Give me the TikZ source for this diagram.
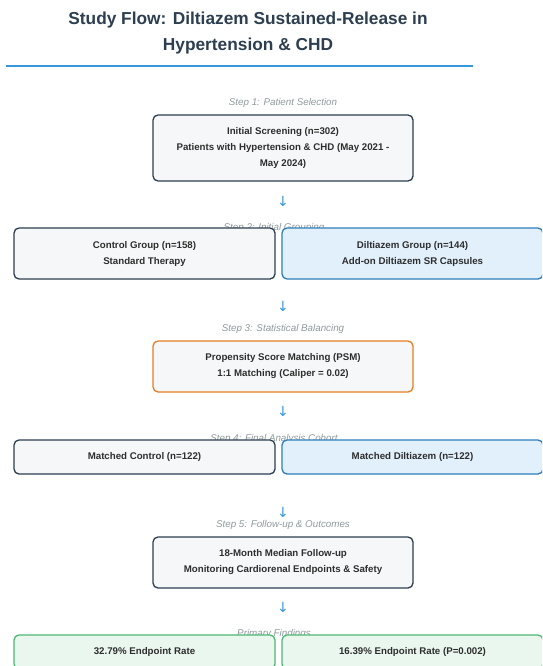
\documentclass[tikz,border=0pt]{standalone}
\usepackage{fontspec}
\setmainfont{Liberation Sans}
\newfontfamily\arrowfont{DejaVu Sans}

\definecolor{titlecol}{HTML}{2C3E50}
\definecolor{rulecol}{HTML}{3498DB}
\definecolor{stepcol}{HTML}{8E9A9D}
\definecolor{txtcol}{HTML}{2E2E2E}
\definecolor{boxfill}{HTML}{F5F7F8}
\definecolor{bluefill}{HTML}{E1F0FB}
\definecolor{blueline}{HTML}{2E7DB9}
\definecolor{orangeline}{HTML}{E67E22}
\definecolor{greenfill}{HTML}{EAF7EE}
\definecolor{greenline}{HTML}{4CB874}

\tikzset{
  box/.style={draw=titlecol,fill=boxfill,line width=1.3pt,rounded corners=5pt,
    text=txtcol,font=\fontsize{9.7}{16}\selectfont\bfseries,align=center,
    inner sep=0pt},
  bluebox/.style={box,draw=blueline,fill=bluefill},
  orangebox/.style={box,draw=orangeline},
  greenbox/.style={box,draw=greenline,fill=greenfill},
  steplabel/.style={text=stepcol,font=\fontsize{9.8}{10}\selectfont\itshape,inner sep=0pt},
  downarrow/.style={text=rulecol,font=\arrowfont\fontsize{14}{14}\selectfont,inner sep=0pt}
}

\begin{document}
\begin{tikzpicture}[x=1pt,y=-1pt]
  %ramme
	\clip (0,0) rectangle (542,666);
	\fill[white] (0,0) rectangle (542,666);

  %titel
	\node[text=titlecol,font=\fontsize{17.3}{26}\selectfont\bfseries,align=center] (title) at (248,33)
		{Study Flow: Diltiazem Sustained-Release in\\Hypertension \& CHD};
	\draw[rulecol,line width=1.2pt] (6,66) -- (473,66);

  %trin 1
	\node[steplabel] (lstep1) at (283,103) {Step 1: Patient Selection};
	\node[box,minimum width=260pt,minimum height=66pt] (screening) at (283,148)
		{Initial Screening (n=302)\\Patients with Hypertension \& CHD (May 2021 -\\May 2024)};
	\node[downarrow] (arr1) at (283,201) {↓};

  %trin 2
	\node[steplabel] (lstep2) at (274,227.5) {Step 2: Initial Grouping};
	\node[box,minimum width=261pt,minimum height=51pt] (control) at (144.5,253.5)
		{Control Group (n=158)\\Standard Therapy};
	\node[bluebox,minimum width=261pt,minimum height=51pt] (diltiazem) at (412.5,253.5)
		{Diltiazem Group (n=144)\\Add-on Diltiazem SR Capsules};
	\node[downarrow] (arr2) at (283,306) {↓};

  %trin 3
	\node[steplabel] (lstep3) at (283,329) {Step 3: Statistical Balancing};
	\node[orangebox,minimum width=260pt,minimum height=51pt] (psm) at (283,366.5)
		{Propensity Score Matching (PSM)\\1:1 Matching (Caliper = 0.02)};
	\node[downarrow] (arr3) at (283,411) {↓};

  %trin 4
	\node[steplabel] (lstep4) at (274,438.5) {Step 4: Final Analysis Cohort};
	\node[box,minimum width=261pt,minimum height=34pt] (mcontrol) at (144.5,457)
		{Matched Control (n=122)};
	\node[bluebox,minimum width=261pt,minimum height=34pt] (mdiltiazem) at (412.5,457)
		{Matched Diltiazem (n=122)};
	\node[downarrow] (arr4) at (283,512) {↓};

  %trin 5
	\node[steplabel] (lstep5) at (283,525) {Step 5: Follow-up \& Outcomes};
	\node[box,minimum width=260pt,minimum height=51pt] (followup) at (283,562.5)
		{18-Month Median Follow-up\\Monitoring Cardiorenal Endpoints \& Safety};
	\node[downarrow] (arr5) at (283,607) {↓};

  %resultater
	\node[steplabel] (lfind) at (274,633.5) {Primary Findings};
	\node[greenbox,minimum width=261pt,minimum height=34pt] (findctl) at (144.5,652)
		{32.79\% Endpoint Rate};
	\node[greenbox,minimum width=261pt,minimum height=34pt] (finddil) at (412.5,652)
		{16.39\% Endpoint Rate (P=0.002)};
\end{tikzpicture}
\end{document}
